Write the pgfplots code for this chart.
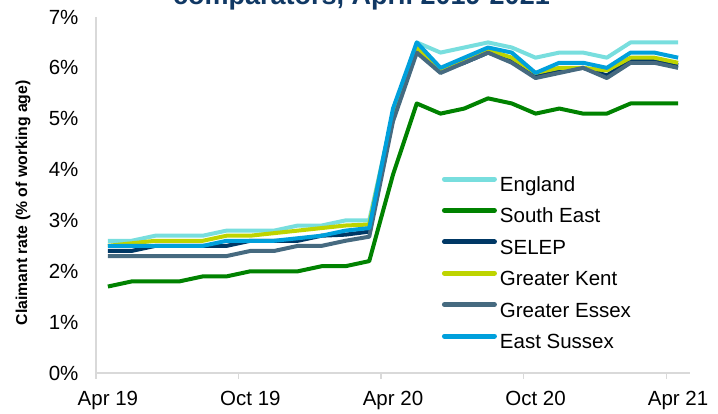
\documentclass[border=0pt]{standalone}
\usepackage{fontspec}
\setmainfont{Liberation Sans}
\usepackage{pgfplots}
\pgfplotsset{compat=1.18}
\definecolor{cEng}{RGB}{120,222,222}
\definecolor{cSE}{RGB}{0,130,0}
\definecolor{cSELEP}{RGB}{0,56,101}
\definecolor{cKent}{RGB}{190,212,0}
\definecolor{cEssex}{RGB}{70,106,128}
\definecolor{cES}{RGB}{0,160,220}
\definecolor{cTitle}{RGB}{16,56,100}
\definecolor{cAxis}{RGB}{217,217,217}
\begin{document}
\begin{tikzpicture}
\begin{axis}[
  scale only axis, width=594pt, height=356pt,
  xmin=-0.5, xmax=24.5, ymin=0, ymax=7,
  axis lines*=left,
  axis line style={draw=cAxis, line width=1.3pt},
  tick style={draw=cAxis, line width=1.3pt},
  major tick length=0pt,
  xtick={0,6,12,18,24},
  xticklabels={Apr 19,Oct 19,Apr 20,Oct 20,Apr 21},
  xticklabel style={yshift=-15pt},
  extra x ticks={-0.5,5.5,11.5,17.5,23.5},
  extra x tick labels={},
  extra x tick style={major tick length=6pt, tick align=outside},
  ytick={0,1,2,3,4,5,6,7},
  yticklabels={0\%,1\%,2\%,3\%,4\%,5\%,6\%,7\%},
  y tick style={draw=none},
  yticklabel style={xshift=-14pt},
  tick label style={font=\fontsize{20.5}{24}\selectfont},
  ylabel={Claimant rate (\% of working age)},
  ylabel style={at={(axis description cs:-0.1229,0.478)}, anchor=center, font=\fontsize{15.8}{19}\selectfont\bfseries},
  legend style={at={(axis cs:14.06,3.87)}, anchor=north west, draw=none, fill=none,
    inner sep=0pt, outer sep=0pt, row sep=10.9pt, column sep=0pt,
    font=\fontsize{20.5}{24}\selectfont,
    nodes={inner sep=0pt, outer sep=0pt, text height=15.4pt, text depth=5.1pt}},
  legend cell align=left,
  legend image code/.code={\draw[#1, line width=5pt, line cap=round] (2.5pt,7.4pt) -- (52.5pt,7.4pt); \path[draw=none, fill=none] (0pt,0pt) -- (58pt,0pt);},
  every axis plot/.append style={line width=4pt, line join=round, mark=none},
]
\addplot[cEng] coordinates {(0,2.6)(1,2.6)(2,2.7)(3,2.7)(4,2.7)(5,2.8)(6,2.8)(7,2.8)(8,2.9)(9,2.9)(10,3.0)(11,3.0)(12,5.1)(13,6.5)(14,6.3)(15,6.4)(16,6.5)(17,6.4)(18,6.2)(19,6.3)(20,6.3)(21,6.2)(22,6.5)(23,6.5)(24,6.5)};
\addlegendentry{England}
\addplot[cSE] coordinates {(0,1.7)(1,1.8)(2,1.8)(3,1.8)(4,1.9)(5,1.9)(6,2.0)(7,2.0)(8,2.0)(9,2.1)(10,2.1)(11,2.2)(12,3.9)(13,5.3)(14,5.1)(15,5.2)(16,5.4)(17,5.3)(18,5.1)(19,5.2)(20,5.1)(21,5.1)(22,5.3)(23,5.3)(24,5.3)};
\addlegendentry{South East}
\addplot[cSELEP] coordinates {(0,2.4)(1,2.4)(2,2.5)(3,2.5)(4,2.5)(5,2.5)(6,2.6)(7,2.6)(8,2.6)(9,2.7)(10,2.72)(11,2.78)(12,5.0)(13,6.4)(14,5.95)(15,6.1)(16,6.3)(17,6.15)(18,5.85)(19,5.95)(20,6.0)(21,5.85)(22,6.15)(23,6.15)(24,6.05)};
\addlegendentry{SELEP}
\addplot[cKent] coordinates {(0,2.5)(1,2.55)(2,2.6)(3,2.6)(4,2.6)(5,2.7)(6,2.7)(7,2.75)(8,2.8)(9,2.85)(10,2.9)(11,2.92)(12,5.1)(13,6.4)(14,5.95)(15,6.15)(16,6.35)(17,6.2)(18,5.9)(19,6.0)(20,6.0)(21,5.95)(22,6.2)(23,6.2)(24,6.1)};
\addlegendentry{Greater Kent}
\addplot[cEssex] coordinates {(0,2.3)(1,2.3)(2,2.3)(3,2.3)(4,2.3)(5,2.3)(6,2.4)(7,2.4)(8,2.5)(9,2.5)(10,2.6)(11,2.68)(12,4.95)(13,6.3)(14,5.9)(15,6.1)(16,6.3)(17,6.1)(18,5.8)(19,5.9)(20,6.0)(21,5.8)(22,6.1)(23,6.1)(24,6.0)};
\addlegendentry{Greater Essex}
\addplot[cES] coordinates {(0,2.5)(1,2.5)(2,2.5)(3,2.5)(4,2.5)(5,2.6)(6,2.6)(7,2.6)(8,2.65)(9,2.7)(10,2.8)(11,2.85)(12,5.2)(13,6.5)(14,6.0)(15,6.2)(16,6.4)(17,6.3)(18,5.9)(19,6.1)(20,6.1)(21,6.0)(22,6.3)(23,6.3)(24,6.2)};
\addlegendentry{East Sussex}
\end{axis}
\begin{scope}
\clip (-96pt,-41pt) rectangle (622pt,373pt);
\node[anchor=base, text=cTitle, font=\fontsize{27}{32}\selectfont\bfseries, inner sep=0pt] at (265.5pt,368pt) {comparators, April 2019-2021};
\end{scope}
\pgfresetboundingbox
\path[use as bounding box] (-96pt,-41pt) rectangle (622pt,373pt);
\end{tikzpicture}
\end{document}
